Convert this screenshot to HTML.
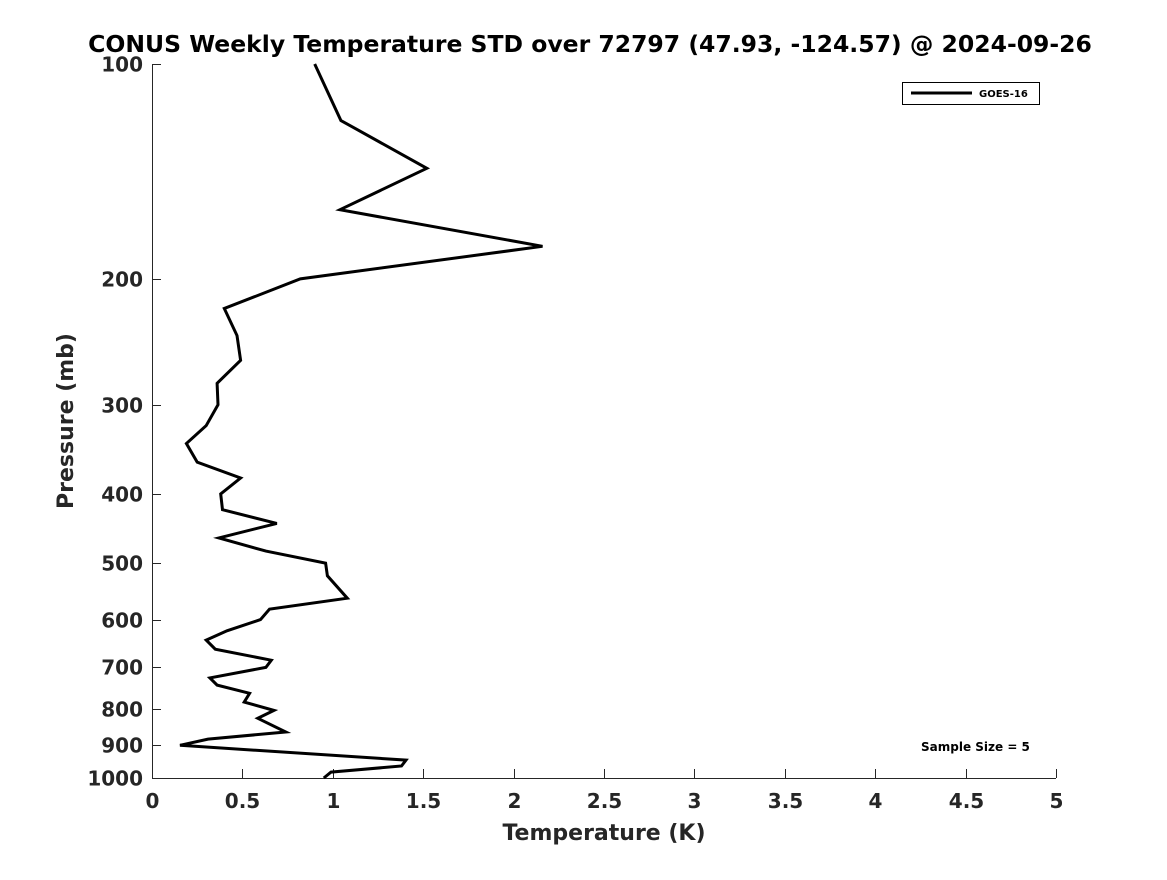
<!DOCTYPE html>
<html><head><meta charset="utf-8"><style>
body{margin:0;background:#fff}
svg text{font-family:"DejaVu Sans","Liberation Sans",sans-serif;font-weight:bold}
</style></head><body>
<svg id="chart" width="1167" height="875" xmlns="http://www.w3.org/2000/svg">
<rect width="1167" height="875" fill="#fff"/>
<text x="590" y="52" text-anchor="middle" font-size="23.5" fill="#000">CONUS Weekly Temperature STD over 72797 (47.93, -124.57) @ 2024-09-26</text>
<g id="axes"></g>
<path id="series" fill="none" stroke="#000" stroke-width="3" stroke-linejoin="miter"/>
<g>
<rect x="902.5" y="82.5" width="137" height="22" fill="#fff" stroke="#000" stroke-width="1"/>
<line x1="911" y1="93" x2="972" y2="93" stroke="#000" stroke-width="3"/>
<text x="979" y="97" font-size="10" fill="#000">GOES-16</text>
</g>
<text x="921" y="751" font-size="12" fill="#000">Sample Size = 5</text>
<text x="604" y="840" text-anchor="middle" font-size="22" fill="#262626">Temperature (K)</text>
<text transform="translate(73,421) rotate(-90)" text-anchor="middle" font-size="22" fill="#262626">Pressure (mb)</text>
</svg>
<script>
const xTicks=[0,0.5,1,1.5,2,2.5,3,3.5,4,4.5,5];
const xTickLabels=["0","0.5","1","1.5","2","2.5","3","3.5","4","4.5","5"];
const yTicks=[100,200,300,400,500,600,700,800,900,1000];
const pressure=[100,120,140,160,180,200,220,240,260,280,300,321,340,361,380,400,421,440,461,481,500,521,560,580,600,622,641,660,684,700,724,741,761,783,804,825,862,882,900,944,962,981,1000];
const stdK=[0.90,1.045,1.52,1.04,2.16,0.82,0.40,0.47,0.49,0.36,0.365,0.30,0.19,0.25,0.49,0.38,0.39,0.69,0.37,0.63,0.96,0.97,1.08,0.65,0.60,0.415,0.30,0.35,0.66,0.63,0.32,0.36,0.54,0.51,0.675,0.585,0.74,0.31,0.155,1.405,1.38,0.99,0.95];
const X0=152,X1=1056,Y0=64,Y1=778;
const xs=v=>X0+(v-0)/(5-0)*(X1-X0);
const ys=p=>Y0+(Math.log10(p)-2)/(3-2)*(Y1-Y0);
const NS="http://www.w3.org/2000/svg";
const ax=document.getElementById('axes');
function mk(t,a,p){const e=document.createElementNS(NS,t);for(const k in a)e.setAttribute(k,a[k]);(p||ax).appendChild(e);return e;}
let l=mk('line',{x1:X0,y1:Y1+0.5,x2:X1,y2:Y1+0.5,stroke:'#262626','stroke-width':1});


l=mk('line',{x1:X0+0.5,y1:Y0,x2:X0+0.5,y2:Y1,stroke:'#262626','stroke-width':1});


xTicks.forEach((v,i)=>{
  const x=Math.round(xs(v))+0.5;
  mk('line',{x1:x,y1:Y1,x2:x,y2:Y1-9,stroke:'#262626','stroke-width':1});
  const t=mk('text',{x:x,y:Y1+30,'text-anchor':'middle','font-size':20,fill:'#262626'});
  t.textContent=xTickLabels[i];
  
  
});
yTicks.forEach(p=>{
  const y=Math.round(ys(p))+0.5;
  mk('line',{x1:X0,y1:y,x2:X0+9,y2:y,stroke:'#262626','stroke-width':1});
  const t=mk('text',{x:X0-9,y:y+7,'text-anchor':'end','font-size':20,fill:'#262626'});
  t.textContent=String(p);
  
  
});
document.getElementById('series').setAttribute('d',stdK.map((v,i)=>(i?'L':'M')+xs(v).toFixed(1)+','+ys(pressure[i]).toFixed(1)).join(''));
</script>
</body></html>
